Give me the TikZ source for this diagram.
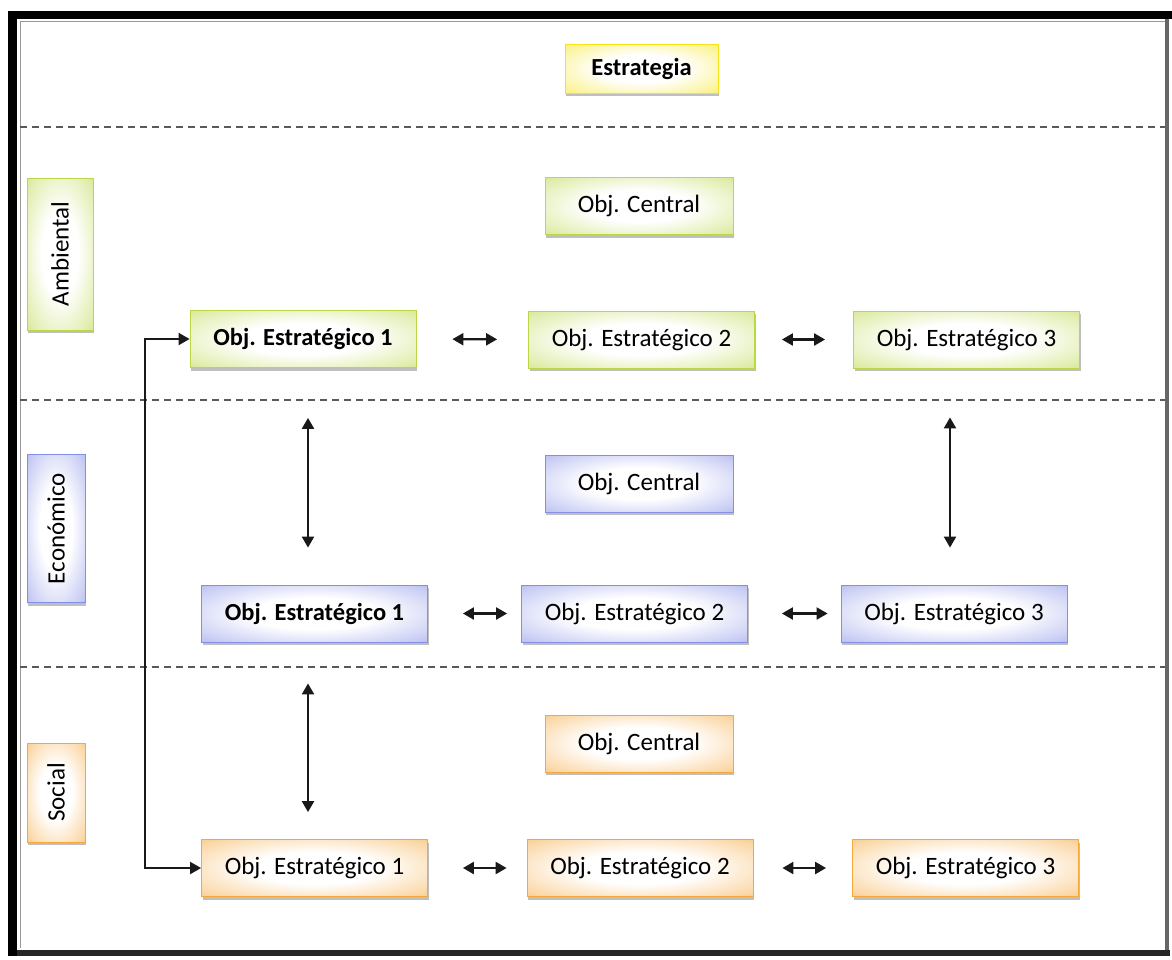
\documentclass[tikz,border=0pt]{standalone}
\usepackage{fontspec}
\setmainfont{Carlito}
\usetikzlibrary{arrows.meta,shadows}

% Dimension colours
\definecolor{cyellow}{RGB}{246,228,20}
\definecolor{cgreen}{RGB}{185,215,70}
\definecolor{cblue}{RGB}{132,142,230}
\definecolor{corange}{RGB}{245,168,60}

% Boxes glow with colour at their rims and stay white in the middle
\pgfdeclareradialshading{glowyellow}{\pgfpoint{0bp}{0bp}}{color(0bp)=(white); color(14bp)=(white); color(32bp)=(cyellow!45); color(46bp)=(cyellow!95); color(100bp)=(cyellow)}
\pgfdeclareradialshading{glowgreen}{\pgfpoint{0bp}{0bp}}{color(0bp)=(white); color(14bp)=(white); color(32bp)=(cgreen!45); color(46bp)=(cgreen!95); color(100bp)=(cgreen)}
\pgfdeclareradialshading{glowblue}{\pgfpoint{0bp}{0bp}}{color(0bp)=(white); color(14bp)=(white); color(32bp)=(cblue!45); color(46bp)=(cblue!95); color(100bp)=(cblue)}
\pgfdeclareradialshading{gloworange}{\pgfpoint{0bp}{0bp}}{color(0bp)=(white); color(14bp)=(white); color(32bp)=(corange!45); color(46bp)=(corange!95); color(100bp)=(corange)}

\tikzset{
  box/.style={inner sep=0pt, font=\fontsize{25}{30}\selectfont, text=black,
    drop shadow={shadow xshift=1pt, shadow yshift=-3pt, opacity=0.25, fill=black}},
  strong/.style={font=\fontsize{24.5}{30}\selectfont\bfseries},
  ybox/.style={box, shading=glowyellow, draw=cyellow, line width=0.8pt},
  gbox/.style={box, shading=glowgreen, draw=cgreen, line width=0.8pt},
  bbox/.style={box, shading=glowblue, draw=cblue, line width=0.8pt},
  obox/.style={box, shading=gloworange, draw=corange, line width=0.8pt},
  rowbox/.style={minimum width=226pt, minimum height=57pt},
  centralbox/.style={minimum width=188pt, minimum height=57pt},
  sidebox/.style={rotate=90},
  link/.style={line width=2.2pt, draw=black!90,
    {Triangle[length=11pt,width=12pt]}-{Triangle[length=11pt,width=12pt]}},
  separator/.style={line width=2.2pt, draw=black!65, dash pattern=on 7pt off 5pt},
}

\begin{document}
\begin{tikzpicture}[x=1pt,y=1pt]
\useasboundingbox (0,0) rectangle (1172,-959);
\fill[white] (0,0) rectangle (1172,-959);

% frame
\draw[line width=1pt, black!40] (20,-21) -- (1165,-21);
\draw[line width=1pt, black!40] (20,-21) -- (20,-948);
\draw[line width=4pt, black!60] (1167,-19) -- (1167,-955);
\draw[line width=6pt, black!85] (8,-953) -- (1170,-953);
\draw[line width=8pt, black] (8,-15) -- (1172,-15);
\draw[line width=9pt, black] (12.5,-11) -- (12.5,-956);

% band separators
\draw[separator] (20,-127) -- (1165,-127);
\draw[separator] (20,-400) -- (1165,-400);
\draw[separator] (20,-667) -- (1165,-667);

% strategy
\node[ybox, strong, minimum width=153pt, minimum height=49pt] (estr) at (641.5,-68.5) {Estrategia};

% side labels
\node[gbox, sidebox, minimum width=152pt, minimum height=66pt] (amb) at (60,-254) {Ambiental};
\node[bbox, sidebox, minimum width=148pt, minimum height=58pt] (eco) at (56,-528.5) {Económico};
\node[obox, sidebox, minimum width=99pt, minimum height=58pt] (soc) at (56,-792.5) {Social};

% central objectives
\node[gbox, centralbox] (gc) at (639,-206) {Obj. Central};
\node[bbox, centralbox] (bc) at (639,-483.5) {Obj. Central};
\node[obox, centralbox] (oc) at (639,-743.5) {Obj. Central};

% strategic objectives
\node[gbox, rowbox, strong] (g1) at (303,-339) {Obj. Estratégico 1};
\node[gbox, rowbox] (g2) at (641.5,-339.5) {Obj. Estratégico 2};
\node[gbox, rowbox] (g3) at (966.5,-339.5) {Obj. Estratégico 3};

\node[bbox, rowbox, strong] (b1) at (314.5,-613.5) {Obj. Estratégico 1};
\node[bbox, rowbox] (b2) at (634.5,-613.5) {Obj. Estratégico 2};
\node[bbox, rowbox] (b3) at (954,-613.5) {Obj. Estratégico 3};

\node[obox, rowbox] (o1) at (314.5,-868) {Obj. Estratégico 1};
\node[obox, rowbox] (o2) at (640,-868) {Obj. Estratégico 2};
\node[obox, rowbox] (o3) at (965.5,-868) {Obj. Estratégico 3};

% links within each row
\draw[link, shorten <=36pt, shorten >=31pt] (g1.east) -- (g2.west);
\draw[link, shorten <=27pt, shorten >=28pt] (g2.east) -- (g3.west);
\draw[link, shorten <=35pt, shorten >=14pt] (b1.east) -- (b2.west);
\draw[link, shorten <=34pt, shorten >=13pt] (b2.east) -- (b3.west);
\draw[link, shorten <=35pt, shorten >=20pt] (o1.east) -- (o2.west);
\draw[link, shorten <=29pt, shorten >=26pt] (o2.east) -- (o3.west);

% links between rows
\draw[link, shorten <=50pt, shorten >=37pt] ([xshift=5pt]g1.south) -- ([xshift=-6.5pt]b1.north);
\draw[link, shorten <=49pt, shorten >=37pt] ([xshift=-16.5pt]g3.south) -- ([xshift=-4pt]b3.north);
\draw[link, shorten <=41pt, shorten >=27pt] ([xshift=-6.5pt]b1.south) -- ([xshift=-6.5pt]o1.north);

% environmental to social link
\coordinate (bend) at (145,-600);
\draw[link, line width=2pt] (g1.west) -- (g1.west -| bend) -- (o1.west -| bend) -- (o1.west);
\end{tikzpicture}
\end{document}
